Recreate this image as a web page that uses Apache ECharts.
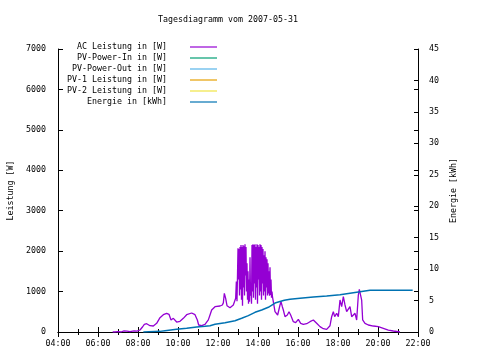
<!DOCTYPE html>
<html><head><meta charset="utf-8">
<script src="https://cdn.jsdelivr.net/npm/echarts@6/dist/echarts.min.js"></script>
<style>html,body{margin:0;padding:0;background:#fff}#c{width:480px;height:360px}</style>
</head><body><div id="c"></div>
<script>
const titleText = 'Tagesdiagramm vom 2007-05-31';
const leftAxisName = 'Leistung [W]';
const rightAxisName = 'Energie [kWh]';
const seriesNames = ['AC Leistung in [W]', 'PV-Power-In in [W]', 'PV-Power-Out in [W]', 'PV-1 Leistung in [W]', 'PV-2 Leistung in [W]', 'Energie in [kWh]'];
const seriesColors = ['#9400d3', '#009e73', '#56b4e9', '#e69f00', '#f0e442', '#0072b2'];

// time in minutes since midnight
const acTime = [404, 411, 420, 429, 438, 447, 456, 468, 477, 486, 494, 499, 506, 516, 526, 536, 546, 556, 566, 573, 579, 586, 596, 606, 616, 626, 641, 651, 658, 662, 671, 681, 691, 696, 701, 711, 726, 733, 736, 739, 743, 747, 756, 766, 773, 775, 777,
  780, 781.5, 783, 784.5, 786, 787.5, 789, 790.5, 792, 793.5, 795, 796.5, 798, 799.5, 801, 802.5, 804, 805.5, 807, 808.5, 810, 811.5, 813, 814.5, 816, 817.5, 819, 820.5, 822, 823.5, 825, 826.5, 828, 829.5, 831, 832.5, 834, 835.5, 837, 838.5, 840, 841.5, 843, 844.5, 846, 847.5, 849, 850.5, 852, 853.5, 855, 856.5, 858, 859.5, 861, 862.5, 864, 865.5, 867, 868.5, 870, 871.5, 873, 874.5, 876, 877.5, 879, 880.5, 882, 883.5,
  886, 891, 899, 906, 909, 913, 916, 921, 928, 933, 938, 946, 953, 961, 968, 976, 986, 996, 1006, 1016, 1026, 1036, 1046, 1056, 1061, 1066, 1070, 1076, 1081, 1086, 1091, 1096, 1101, 1106, 1111, 1116, 1121, 1126, 1131, 1136, 1141, 1144, 1148, 1151, 1154, 1161, 1171, 1186, 1201, 1216, 1231, 1246, 1266];
const acPower = [0, 0, 10, 0, 25, 20, 10, 30, 20, 50, 130, 190, 205, 156, 148, 215, 354, 428, 462, 437, 297, 338, 247, 264, 338, 428, 470, 428, 297, 173, 156, 190, 300, 420, 544, 626, 643, 668, 720, 957, 833, 651, 601, 668, 833, 1250, 760,
  2070, 1300, 2050, 900, 2100, 1050, 2150, 800, 2100, 650, 2150, 1100, 2120, 900, 2170, 1400, 2100, 1000, 1700, 800, 1500, 700, 1300, 750, 1850, 900, 1200, 700, 2150, 1000, 2170, 850, 2150, 1200, 2170, 800, 2100, 1100, 2170, 700, 2150, 1300, 2100, 900, 2170, 1000, 2150, 800, 2100, 1200, 2050, 900, 1900, 1000, 2000, 800, 1850, 1100, 1800, 900, 1700, 950, 1500, 900, 1600, 915, 1300, 850, 1000, 870,
  873, 502, 420, 668, 750, 626, 544, 379, 420, 502, 420, 255, 231, 313, 215, 190, 205, 255, 297, 215, 132, 82, 66, 156, 379, 502, 380, 462, 380, 791, 626, 873, 668, 502, 460, 626, 379, 338, 462, 297, 915, 1055, 1080, 791, 297, 215, 173, 148, 132, 91, 49, 25, 0];

const energyTime = [496, 546, 561, 596, 626, 656, 681, 696, 711, 741, 771, 791, 811, 831, 851, 871, 891, 906, 919, 936, 966, 1006, 1046, 1086, 1126, 1146, 1176, 1304];
const energyKWh = [0, 0.1, 0.2, 0.42, 0.58, 0.8, 0.9, 1.0, 1.22, 1.48, 1.8, 2.18, 2.6, 3.13, 3.5, 3.93, 4.6, 4.85, 5.04, 5.2, 5.36, 5.57, 5.72, 5.93, 6.25, 6.4, 6.63, 6.65];

const xMin = 240, xMax = 1320, xStep = 120;
const yMax = 7000, yStep = 1000;
const y2Max = 45, y2Step = 5;

const FONT = 'DejaVu Sans Mono';
const FS = 8.3;
function hhmm(v) {
  const h = Math.floor(v / 60), m = Math.round(v % 60);
  return (h < 10 ? '0' : '') + h + ':' + (m < 10 ? '0' : '') + m;
}
function plain(v) { return String(v); }
function zip(a, b) { return a.map((t, i) => [t, b[i]]); }

const chart = echarts.init(document.getElementById('c'), null, {renderer: 'canvas'});
const lineBase = {type: 'line', showSymbol: false, symbol: 'none', animation: false};
const series = seriesNames.map((n, i) => Object.assign({}, lineBase, {
  name: n, data: [], xAxisIndex: 0, yAxisIndex: 0,
  itemStyle: {color: seriesColors[i]}, lineStyle: {color: seriesColors[i], width: 1.3}
}));
series[0].data = zip(acTime, acPower);
series[5].data = zip(energyTime, energyKWh);
series[5].yAxisIndex = 1;
series[5].lineStyle.width = 1.5;

const axisLine = {show: true, lineStyle: {color: '#000', width: 1}};
chart.setOption({
  animation: false,
  backgroundColor: '#fff',
  title: {text: titleText, left: 223, textAlign: 'center', top: 11,
    textStyle: {fontFamily: FONT, fontSize: FS, fontWeight: 'normal', color: '#000'}},
  legend: {orient: 'vertical', right: 263, top: 43, padding: 0, align: 'right',
    itemWidth: 27, itemHeight: 1.2, itemGap: 3, icon: 'rect', selectedMode: false,
    textStyle: {fontFamily: FONT, fontSize: FS, color: '#000', padding: [0, 18, 0, 0]},
    data: seriesNames},
  grid: {left: 58, right: 62, top: 49, bottom: 28, containLabel: false, outerBoundsMode: 'none'},
  xAxis: [
    {type: 'value', min: xMin, max: xMax, interval: xStep, position: 'bottom',
      axisLine: axisLine, axisTick: {show: true, inside: true, length: 5, lineStyle: {color: '#000'}},
      minorTick: {show: true, splitNumber: 2, length: 3, lineStyle: {color: '#000'}},
      splitLine: {show: false},
      axisLabel: {formatter: hhmm, fontFamily: FONT, fontSize: FS, color: '#000', margin: 8}},
    {type: 'value', min: xMin, max: xMax, interval: xStep, position: 'top',
      axisLine: axisLine, axisTick: {show: true, inside: true, length: 5, lineStyle: {color: '#000'}},
      minorTick: {show: true, splitNumber: 2, length: 3, lineStyle: {color: '#000'}},
      splitLine: {show: false}, axisLabel: {show: false}}
  ],
  yAxis: [
    {type: 'value', min: 0, max: yMax, interval: yStep, position: 'left',
      name: leftAxisName, nameLocation: 'middle', nameGap: 43,
      nameTextStyle: {fontFamily: FONT, fontSize: FS, color: '#000'},
      axisLine: axisLine, axisTick: {show: true, inside: true, length: 5, lineStyle: {color: '#000'}},
      splitLine: {show: false},
      axisLabel: {formatter: plain, fontFamily: FONT, fontSize: FS, color: '#000', margin: 12}},
    {type: 'value', min: 0, max: y2Max, interval: y2Step, position: 'right',
      name: rightAxisName, nameLocation: 'middle', nameGap: 32,
      nameTextStyle: {fontFamily: FONT, fontSize: FS, color: '#000'},
      axisLine: axisLine, axisTick: {show: true, inside: true, length: 4, lineStyle: {color: '#000'}},
      splitLine: {show: false},
      axisLabel: {formatter: plain, fontFamily: FONT, fontSize: FS, color: '#000', margin: 11}},
    {type: 'value', min: 0, max: yMax, interval: yStep, position: 'right',
      axisLine: {show: false}, axisTick: {show: true, inside: true, length: 4, lineStyle: {color: '#000'}},
      splitLine: {show: false}, axisLabel: {show: false}}
  ],
  series: series
});
</script>
</body></html>
